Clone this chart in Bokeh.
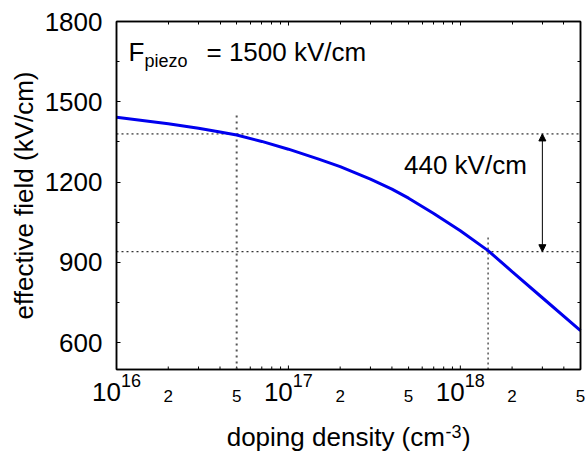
import math
from bokeh.plotting import figure
from bokeh.models import (LogAxis, LinearAxis, FixedTicker, SingleIntervalTicker,
                          Range1d, Label, Arrow, NormalHead, CustomJSTickFormatter,
                          BoxAnnotation)
from bokeh.embed import file_html
from bokeh.resources import INLINE

# ---- data ----
doping = [1e16, 2e16, 3e16, 4e16, 5e16, 7e16, 1e17, 1.5e17, 2e17, 3e17, 4e17,
          5e17, 7e17, 1e18, 1.45e18, 2e18, 3e18, 5e18]
field = [1442, 1418, 1401, 1387, 1376, 1352, 1323, 1286, 1258, 1211, 1174,
         1140, 1083, 1018, 944, 866, 768, 645]

mark_low_doping = 5e16
mark_high_doping = 1.45e18
mark_high_field = 1380
mark_low_field = 940
arrow_x = 3e18

decade_ticks = [1e16, 1e17, 1e18]
decade_exps = ["16", "17", "18"]
minor_label_ticks = [2e16, 5e16, 2e17, 5e17, 2e18, 5e18]
minor_labels = ["2", "5", "2", "5", "2", "5"]
x_minor_ticks = [2e16, 3e16, 4e16, 5e16, 6e16, 7e16, 8e16, 9e16,
                 2e17, 3e17, 4e17, 5e17, 6e17, 7e17, 8e17, 9e17,
                 2e18, 3e18, 4e18, 5e18]

FONT = "Liberation Sans"
BIG = 26
SMALL = 18
TINY = 17

# data box and its place on the canvas
x0, x1 = 1e16, 5e18
y0, y1 = 500, 1800
W, H = 588, 455
box_left, box_right, box_top, box_bottom = 116, 580, 21, 369

ppd = (box_right - box_left) / math.log10(x1 / x0)     # pixels per decade
ppu = (box_bottom - box_top) / (y1 - y0)                # pixels per kV/cm
xr = Range1d(x0 / 10 ** (box_left / ppd), x1 * 10 ** ((W - box_right) / ppd))
yr = Range1d(y0 - (H - box_bottom) / ppu, y1 + box_top / ppu)

p = figure(width=W, height=H, x_axis_type="log", x_range=xr, y_range=yr,
           x_axis_location=None, y_axis_location=None,
           title=None, output_backend="svg", toolbar_location=None,
           min_border=0, min_border_left=0, min_border_right=0,
           min_border_top=0, min_border_bottom=0)
p.grid.visible = False
p.outline_line_color = None
p.background_fill_color = "white"
p.border_fill_color = "white"


def make_axis(cls, ticker, loc, bounds, labels=False):
    ax = cls(ticker=ticker)
    ax.fixed_location = loc
    ax.bounds = bounds
    ax.axis_line_color = "black"
    ax.axis_line_width = 1.5
    ax.major_tick_in, ax.major_tick_out = 4, 0
    ax.minor_tick_in, ax.minor_tick_out = 3, 0
    ax.major_tick_line_color = "black"
    ax.minor_tick_line_color = "black"
    if labels:
        ax.major_label_text_font = FONT
        ax.major_label_text_font_size = f"{BIG}px"
        ax.major_label_text_color = "black"
        ax.major_label_standoff = 14
    else:
        ax.formatter = CustomJSTickFormatter(code="return '';")
        ax.major_label_standoff = 0
    return ax


xt_top = FixedTicker(ticks=decade_ticks, minor_ticks=x_minor_ticks)
yt_left = SingleIntervalTicker(interval=300, num_minor_ticks=2)
yt_right = SingleIntervalTicker(interval=300, num_minor_ticks=2)

top = make_axis(LogAxis, xt_top, y1, (x0, x1))
p.add_layout(top, "above")
left = make_axis(LinearAxis, yt_left, x0, (y0, y1), labels=True)
left.axis_label = "effective field (kV/cm)"
left.axis_label_text_font = FONT
left.axis_label_text_font_size = f"{BIG}px"
left.axis_label_text_font_style = "normal"
left.axis_label_text_color = "black"
left.axis_label_standoff = 3
p.add_layout(left, "left")
right = make_axis(LinearAxis, yt_right, x1, (y0, y1))
p.add_layout(right, "right")

# box outline (also closes the bottom edge)
p.add_layout(BoxAnnotation(left=x0, right=x1, bottom=y0, top=y1,
                           fill_color=None, fill_alpha=0,
                           line_color="black", line_width=1.5, line_alpha=1))

# bottom edge of the box with its inward ticks
p.line([x0, x1], [y0, y0], line_color="black", line_width=1.5)
p.segment(x0=decade_ticks, y0=[y0] * len(decade_ticks),
          x1=decade_ticks, y1=[y0 + 4 / ppu] * len(decade_ticks),
          line_color="black", line_width=1)
p.segment(x0=x_minor_ticks, y0=[y0] * len(x_minor_ticks),
          x1=x_minor_ticks, y1=[y0 + 3 / ppu] * len(x_minor_ticks),
          line_color="black", line_width=1)

# guide lines
p.line([x0, x1], [mark_high_field, mark_high_field], line_color="black",
       line_width=1, line_dash="2 3")
p.line([x0, x1], [mark_low_field, mark_low_field], line_color="black",
       line_width=1, line_dash="2 3")
p.line([mark_low_doping, mark_low_doping], [y0, 1450], line_color="#555555",
       line_width=2, line_dash="2 4")
p.line([mark_high_doping, mark_high_doping], [y0, 1000], line_color="black",
       line_width=1, line_dash="2 3")

# curve
p.line(doping, field, line_color="#0000ee", line_width=3)

# arrow
p.add_layout(Arrow(x_start=arrow_x, y_start=mark_low_field,
                   x_end=arrow_x, y_end=mark_high_field,
                   start=NormalHead(size=7, fill_color="black", line_color="black"),
                   end=NormalHead(size=7, fill_color="black", line_color="black"),
                   line_color="black", line_width=1))

BASE_FIX = 0.4   # Label baseline correction, as a fraction of the font size


def lab(text, x, y, xo=0, yo=0, size=BIG, align="left"):
    p.add_layout(Label(x=x, y=y, x_offset=xo, y_offset=yo + BASE_FIX * size,
                       text=text, text_font=FONT, text_font_size=f"{size}px",
                       text_color="black", text_align=align,
                       text_baseline="alphabetic"))


# annotations inside the box
lab("F", x0, y1, xo=12, yo=-41)
lab("piezo", x0, y1, xo=28, yo=-47, size=SMALL)
lab("= 1500 kV/cm", x0, y1, xo=90, yo=-41)
lab("440 kV/cm", 1.07e18, 1224, align="center")

# x tick labels
for t, e in zip(decade_ticks, decade_exps):
    lab("10", t, y0, xo=4.4, yo=-33, align="right")
    lab(e, t, y0, xo=4.4, yo=-18, size=SMALL, align="left")
for t, s in zip(minor_label_ticks, minor_labels):
    lab(s, t, y0, yo=-33, size=TINY, align="center")

# x title
lab("doping density (cm", 1e17, y0, xo=156.5, yo=-78, align="right")
lab("-3", 1e17, y0, xo=157, yo=-69, size=SMALL, align="left")
lab(")", 1e17, y0, xo=173.5, yo=-78, align="left")

open("out.html", "w").write(file_html(p, INLINE))
